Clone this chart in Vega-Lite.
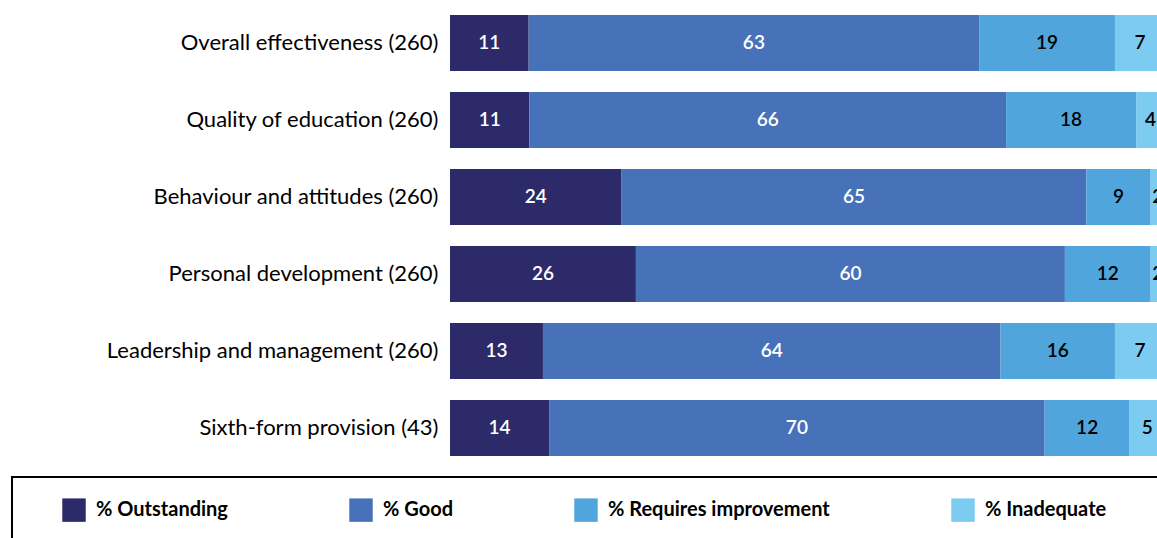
{
  "$schema": "https://vega.github.io/schema/vega-lite/v6.json",
  "autosize": {"type": "none"},
  "padding": {"left": 450, "top": 4.5, "right": 0, "bottom": 72},
  "width": 715,
  "height": 462,
  "background": "white",
  "config": {
    "view": {"stroke": null},
    "font": "Lato",
    "legend": {"strokeWidth": 2}
  },
  "data": {
    "values": [
      {"area": "Overall effectiveness (260)", "grade": "% Outstanding", "k": 1, "pct": 11},
      {"area": "Overall effectiveness (260)", "grade": "% Good", "k": 2, "pct": 63},
      {"area": "Overall effectiveness (260)", "grade": "% Requires improvement", "k": 3, "pct": 19},
      {"area": "Overall effectiveness (260)", "grade": "% Inadequate", "k": 4, "pct": 7},
      {"area": "Quality of education (260)", "grade": "% Outstanding", "k": 1, "pct": 11},
      {"area": "Quality of education (260)", "grade": "% Good", "k": 2, "pct": 66},
      {"area": "Quality of education (260)", "grade": "% Requires improvement", "k": 3, "pct": 18},
      {"area": "Quality of education (260)", "grade": "% Inadequate", "k": 4, "pct": 4},
      {"area": "Behaviour and attitudes (260)", "grade": "% Outstanding", "k": 1, "pct": 24},
      {"area": "Behaviour and attitudes (260)", "grade": "% Good", "k": 2, "pct": 65},
      {"area": "Behaviour and attitudes (260)", "grade": "% Requires improvement", "k": 3, "pct": 9},
      {"area": "Behaviour and attitudes (260)", "grade": "% Inadequate", "k": 4, "pct": 2},
      {"area": "Personal development (260)", "grade": "% Outstanding", "k": 1, "pct": 26},
      {"area": "Personal development (260)", "grade": "% Good", "k": 2, "pct": 60},
      {"area": "Personal development (260)", "grade": "% Requires improvement", "k": 3, "pct": 12},
      {"area": "Personal development (260)", "grade": "% Inadequate", "k": 4, "pct": 2},
      {"area": "Leadership and management (260)", "grade": "% Outstanding", "k": 1, "pct": 13},
      {"area": "Leadership and management (260)", "grade": "% Good", "k": 2, "pct": 64},
      {"area": "Leadership and management (260)", "grade": "% Requires improvement", "k": 3, "pct": 16},
      {"area": "Leadership and management (260)", "grade": "% Inadequate", "k": 4, "pct": 7},
      {"area": "Sixth-form provision (43)", "grade": "% Outstanding", "k": 1, "pct": 14},
      {"area": "Sixth-form provision (43)", "grade": "% Good", "k": 2, "pct": 70},
      {"area": "Sixth-form provision (43)", "grade": "% Requires improvement", "k": 3, "pct": 12},
      {"area": "Sixth-form provision (43)", "grade": "% Inadequate", "k": 4, "pct": 5}
    ]
  },
  "encoding": {
    "y": {
      "field": "area",
      "type": "nominal",
      "sort": null,
      "scale": {"paddingInner": 0.2727, "paddingOuter": 0.13636},
      "axis": {
        "title": null,
        "domain": false,
        "ticks": false,
        "labelFontSize": 22,
        "labelColor": "black",
        "labelPadding": 12,
        "labelLimit": 500
      }
    }
  },
  "layer": [
    {
      "mark": {"type": "bar"},
      "encoding": {
        "x": {
          "field": "pct",
          "type": "quantitative",
          "stack": "normalize",
          "scale": {"domain": [0, 1], "nice": false},
          "axis": null
        },
        "order": {"field": "k", "type": "quantitative"},
        "color": {
          "field": "grade",
          "type": "nominal",
          "sort": ["% Outstanding", "% Good", "% Requires improvement", "% Inadequate"],
          "scale": {
            "domain": ["% Outstanding", "% Good", "% Requires improvement", "% Inadequate"],
            "range": ["#2d2a6a", "#4772b9", "#50a6dc", "#7ccbf1"]
          },
          "legend": {
            "orient": "none",
            "direction": "horizontal",
            "legendX": -438,
            "legendY": 472.5,
            "title": " ",
            "titleOrient": "left",
            "titleFontSize": 1,
            "titlePadding": 29,
            "padding": 21,
            "strokeColor": "black",
            "symbolType": "square",
            "symbolSize": 550,
            "symbolStrokeWidth": 0,
            "symbolOpacity": 1,
            "labelFontSize": 20,
            "labelFontWeight": "bold",
            "labelColor": "black",
            "labelOffset": 10,
            "columnPadding": 121,
            "labelLimit": 400,
            "labelExpr": "datum.label == '% Inadequate' ? datum.label + '\u2800\u2800\u2800' : datum.label"
          }
        }
      }
    },
    {
      "transform": [
        {"stack": "pct", "groupby": ["area"], "sort": [{"field": "k", "order": "ascending"}], "offset": "normalize", "as": ["s0", "s1"]},
        {"fold": ["s0", "s1"], "as": ["edge", "v"]},
        {"aggregate": [{"op": "mean", "field": "v", "as": "mid"}], "groupby": ["area", "grade", "k", "pct"]}
      ],
      "mark": {"type": "text", "fontSize": 19, "fontWeight": 600, "baseline": "middle", "align": "center"},
      "encoding": {
        "x": {"field": "mid", "type": "quantitative"},
        "text": {"field": "pct", "type": "quantitative"},
        "color": {
          "condition": {"test": "datum.k <= 2", "value": "white"},
          "value": "black"
        }
      }
    }
  ]
}
